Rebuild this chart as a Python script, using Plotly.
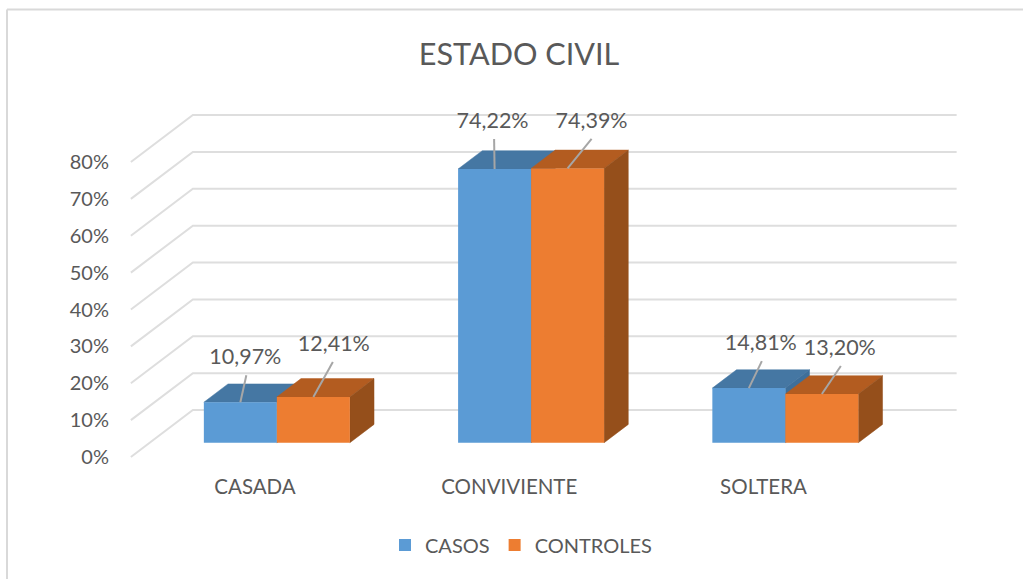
import plotly.graph_objects as go

categories = ["CASADA", "CONVIVIENTE", "SOLTERA"]
casos = [10.97, 74.22, 14.81]
controles = [12.41, 74.39, 13.20]
series_names = ["CASOS", "CONTROLES"]
y_ticks = [0, 10, 20, 30, 40, 50, 60, 70, 80]
y_tick_labels = ["0%", "10%", "20%", "30%", "40%", "50%", "60%", "70%", "80%"]

# Oblique projection of the Excel 3-D chart (in pixels, converted to axis units)
W, H = 1023, 579
PX_PER_CAT, PX_PER_PCT = 254.25, 3.6875
X0_PX, Y0_PX = 258.0, 457.0          # pixel of category 0 / value 0 on the front floor edge
L, R, T, B = 125, 1000, 100, 472     # plot area in pixels
DEPTH_X, DEPTH_Y = 62 / PX_PER_CAT, 47 / PX_PER_PCT
Z_FRONT, Z_BACK = 0.304, 0.694
BAR_W = 73 / PX_PER_CAT

COL = {"CASOS": ("#5B9BD5", "#4577A3", "#3E6F9A"),
       "CONTROLES": ("#ED7D31", "#B35C20", "#954F1B")}
GRID = "#DEDEDE"
TEXT = "#595959"
LEAD = "#A6A6A6"
FONT = "Lato, Carlito, Calibri, sans-serif"

# leader top and label centre, pixel offsets from the centre of each bar's top edge
leader_offsets = [[(6, -27), (-0.5, -30), (13, -27)], [(19.5, -35), (24, -29.5), (19, -28)]]
label_offsets = [[(5, -44), (-2, -46), (12, -43.5)], [(20.5, -51.5), (24, -45.5), (18, -44.5)]]

xr = [(L - X0_PX) / PX_PER_CAT, (R - X0_PX) / PX_PER_CAT]
yr = [(Y0_PX - B) / PX_PER_PCT, (Y0_PX - T) / PX_PER_PCT]

fig = go.Figure()

# wall / side gridlines
gx, gy = [], []
for t in y_ticks:
    gx += [-0.5, -0.5 + DEPTH_X, 2.5 + DEPTH_X + 1 / PX_PER_CAT, None]
    gy += [t, t + DEPTH_Y, t + DEPTH_Y, None]
fig.add_trace(go.Scatter(x=gx, y=gy, mode="lines", line=dict(color=GRID, width=2),
                         hoverinfo="skip", showlegend=False))

dx0 = Z_FRONT * DEPTH_X
base = Z_FRONT * DEPTH_Y
dx1 = Z_BACK * DEPTH_X
base1 = Z_BACK * DEPTH_Y
series = [casos, controles]


def face(xs, ys, color):
    fig.add_trace(go.Scatter(x=xs, y=ys, mode="lines", fill="toself", fillcolor=color,
                             line=dict(color=color, width=0.5), hoverinfo="skip", showlegend=False))


# top and side faces, back to front within each category
for i in range(len(categories)):
    for s, (name, vals) in enumerate(zip(series_names, series)):
        xl = i - BAR_W + s * BAR_W
        xr_ = xl + BAR_W
        v = vals[i]
        _, top, side = COL[name]
        face([xl + dx0, xr_ + dx0, xr_ + dx1, xl + dx1, xl + dx0],
             [v + base, v + base, v + base1, v + base1, v + base], top)
        face([xr_ + dx0, xr_ + dx1, xr_ + dx1, xr_ + dx0, xr_ + dx0],
             [v + base, v + base1, base1, base, v + base], side)

# front faces on an overlaying axis pair so that they sit over the depth faces
for s, (name, vals) in enumerate(zip(series_names, series)):
    fig.add_trace(go.Bar(x=list(range(len(categories))), y=vals, base=base, name=name,
                         width=BAR_W, offset=dx0 - BAR_W + s * BAR_W,
                         marker=dict(color=COL[name][0], line=dict(width=0)),
                         xaxis="x2", yaxis="y2",
                         customdata=categories,
                         hovertemplate="%{customdata}: %{y:.2f}%<extra>" + name + "</extra>"))

# leader lines and data labels
lx, ly, tx, ty, tt = [], [], [], [], []
for s, vals in enumerate(series):
    for i, v in enumerate(vals):
        ax = i + dx0 - BAR_W + s * BAR_W + BAR_W / 2
        ay = v + base
        ox, oy = leader_offsets[s][i]
        lx += [ax, ax + ox / PX_PER_CAT, None]
        ly += [ay, ay - oy / PX_PER_PCT, None]
        ox, oy = label_offsets[s][i]
        tx.append(ax + ox / PX_PER_CAT)
        ty.append(ay - oy / PX_PER_PCT)
        tt.append(f"{v:.2f}%".replace(".", ","))
fig.add_trace(go.Scatter(x=lx, y=ly, mode="lines", line=dict(color=LEAD, width=2),
                         xaxis="x2", yaxis="y2", hoverinfo="skip", showlegend=False))
fig.add_trace(go.Scatter(x=tx, y=ty, mode="text", text=tt, textposition="middle center",
                         textfont=dict(family=FONT, size=21.5, color=TEXT), cliponaxis=False,
                         xaxis="x2", yaxis="y2", hoverinfo="skip", showlegend=False))

fig.update_layout(
    width=W, height=H, autosize=False,
    margin=dict(l=L, r=W - R, t=T, b=H - B, pad=0),
    paper_bgcolor="white", plot_bgcolor="rgba(0,0,0,0)",
    barmode="overlay",
    font=dict(family=FONT, color=TEXT, size=20),
    title=dict(text="ESTADO CIVIL", x=519 / W, xanchor="center", y=1 - 54 / H, yanchor="middle",
               font=dict(family=FONT, size=30.6, color=TEXT)),
    xaxis=dict(range=xr, tickmode="array", tickvals=[0, 1, 2], ticktext=categories,
               showgrid=False, zeroline=False, showline=False, ticks="", ticklabelshift=-3,
               tickfont=dict(family=FONT, size=20.5, color=TEXT)),
    yaxis=dict(range=yr, tickmode="array", tickvals=y_ticks, ticktext=y_tick_labels,
               showgrid=False, zeroline=False, showline=False, ticks="", ticklabelstandoff=15,
               tickfont=dict(family=FONT, size=20, color=TEXT)),
    xaxis2=dict(range=xr, overlaying="x", visible=False),
    yaxis2=dict(range=yr, overlaying="y", visible=False),
    legend=dict(orientation="h", x=385 / W, y=1 - 545 / H, xref="container", yref="container",
                xanchor="left", yanchor="middle", font=dict(family=FONT, size=20, color=TEXT),
                bgcolor="rgba(0,0,0,0)", traceorder="normal"),
    shapes=[
        dict(type="line", xref="paper", yref="paper", x0=(7 - L) / (R - L), x1=(W - L) / (R - L),
             y0=(B - 9.5) / (B - T), y1=(B - 9.5) / (B - T), line=dict(color="#D9D9D9", width=2)),
        dict(type="line", xref="paper", yref="paper", x0=(7 - L) / (R - L), x1=(7 - L) / (R - L),
             y0=(B - 9.5) / (B - T), y1=(B - H) / (B - T), line=dict(color="#D9D9D9", width=2)),
    ],
)

fig.write_html("out.html", config={"displayModeBar": False},
               post_script="document.body.style.margin='0';document.documentElement.style.overflow='hidden';")
